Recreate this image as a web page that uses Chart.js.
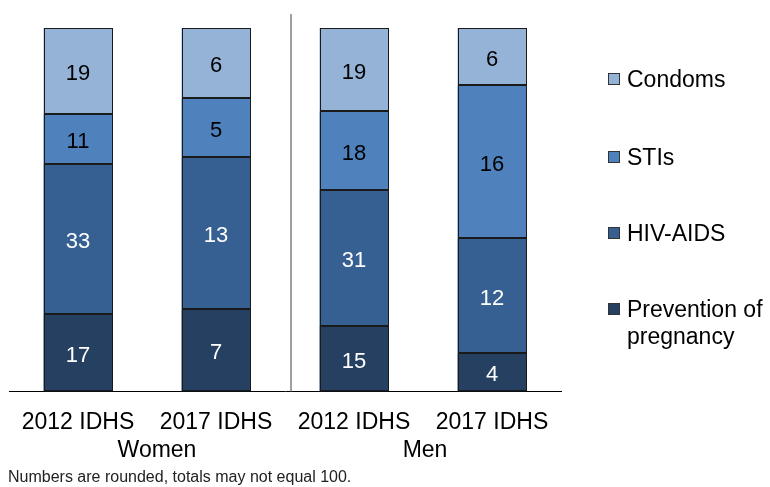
<!DOCTYPE html>
<html>
<head>
<meta charset="utf-8">
<script src="https://cdn.jsdelivr.net/npm/chart.js@4/dist/chart.umd.min.js"></script>
<style>
  html, body { margin: 0; padding: 0; background: #fff; }
  #wrap { width: 770px; height: 487px; position: relative; }
</style>
</head>
<body>
<div id="wrap"><canvas id="chart"></canvas></div>
<script>
// categories and groups
const categories = ["2012 IDHS", "2017 IDHS", "2012 IDHS", "2017 IDHS"];
const groups = ["Women", "Men"];

// raw values shown on the bars (bars are stacked to 100%)
const pregnancy = [17, 7, 15, 4];
const hivAids = [33, 13, 31, 12];
const stis = [11, 5, 18, 16];
const condoms = [19, 6, 19, 6];

const seriesNames = ["Prevention of pregnancy", "HIV-AIDS", "STIs", "Condoms"];
const seriesColors = ["#254061", "#376092", "#4f81bd", "#95b3d7"];
const labelColors = ["#ffffff", "#ffffff", "#000000", "#000000"];
const footnote = "Numbers are rounded, totals may not equal 100.";

const rawSeries = [pregnancy, hivAids, stis, condoms];
const totals = categories.map((c, i) => rawSeries.reduce((s, arr) => s + arr[i], 0));

const FONT = "'Liberation Sans', Arial, sans-serif";

const datasets = rawSeries.map((arr, k) => ({
    label: seriesNames[k],
    data: arr.map((v, i) => v / totals[i] * 100),
    raw: arr,
    backgroundColor: seriesColors[k],
    borderWidth: 0,
    barPercentage: 0.5,
    categoryPercentage: 1.0
}));

const extras = {
    id: "extras",
    afterDatasetsDraw(chart) {
        const ctx = chart.ctx;
        const x = chart.scales.x;
        const area = chart.chartArea;
        ctx.save();

        // crisp outlines around each segment
        ctx.strokeStyle = "#1a1a1a";
        ctx.lineWidth = 1;
        chart.data.datasets.forEach((ds, k) => {
            chart.getDatasetMeta(k).data.forEach((bar) => {
                const l = Math.round(bar.x - bar.width / 2) + 0.5;
                const r = Math.round(bar.x + bar.width / 2) - 0.5;
                const t = Math.round(bar.y) + 0.5;
                const b = Math.round(bar.base) - 0.5;
                ctx.strokeRect(l, t, r - l, b - t);
            });
        });

        // value labels
        ctx.font = "22px " + FONT;
        ctx.textAlign = "center";
        ctx.textBaseline = "middle";
        chart.data.datasets.forEach((ds, k) => {
            const meta = chart.getDatasetMeta(k);
            meta.data.forEach((bar, i) => {
                ctx.fillStyle = labelColors[k];
                ctx.fillText(String(ds.raw[i]), bar.x, (bar.y + bar.base) / 2 + 3);
            });
        });

        // divider between Women and Men
        const midX = (x.getPixelForValue(1) + x.getPixelForValue(2)) / 2 + 6;
        ctx.strokeStyle = "#808080";
        ctx.lineWidth = 1.5;
        ctx.beginPath();
        ctx.moveTo(midX, 14);
        ctx.lineTo(midX, area.bottom);
        ctx.stroke();

        // group labels
        ctx.fillStyle = "#000";
        ctx.font = "23px " + FONT;
        ctx.textBaseline = "alphabetic";
        const g0 = (x.getPixelForValue(0) + x.getPixelForValue(1)) / 2 + 10;
        const g1 = (x.getPixelForValue(2) + x.getPixelForValue(3)) / 2 + 2;
        ctx.fillText(groups[0], g0, 457);
        ctx.fillText(groups[1], g1, 457);

        // footnote
        ctx.font = "16px " + FONT;
        ctx.textAlign = "left";
        ctx.fillStyle = "#222";
        ctx.fillText(footnote, 8, 482);

        // legend (top to bottom: Condoms .. Prevention)
        const legendY = [79, 157, 233, 309];
        ctx.font = "23px " + FONT;
        ctx.textBaseline = "alphabetic";
        for (let k = 3; k >= 0; k--) {
            const y = legendY[3 - k];
            ctx.fillStyle = seriesColors[k];
            ctx.fillRect(608.5, y - 5.5, 11, 11);
            ctx.strokeStyle = "#333";
            ctx.lineWidth = 1;
            ctx.strokeRect(608.5, y - 5.5, 11, 11);
            ctx.fillStyle = "#000";
            const name = seriesNames[k];
            if (name === "Prevention of pregnancy") {
                ctx.fillText("Prevention of", 627, y + 8);
                ctx.fillText("pregnancy", 627, y + 35);
            } else {
                ctx.fillText(name, 627, y + 8);
            }
        }
        ctx.restore();
    }
};

new Chart(document.getElementById("chart"), {
    type: "bar",
    data: { labels: categories, datasets },
    options: {
        responsive: true,
        maintainAspectRatio: false,
        animation: false,
        layout: { padding: { left: 9, right: 209, top: 28, bottom: 34 } },
        plugins: {
            legend: { display: false },
            tooltip: { enabled: false }
        },
        scales: {
            x: {
                stacked: true,
                grid: { display: false, drawTicks: false },
                border: { display: true, color: "#000", width: 1 },
                ticks: { color: "#000", font: { family: FONT, size: 23 }, padding: 17, maxRotation: 0 }
            },
            y: {
                stacked: true,
                display: false,
                min: 0,
                max: 100
            }
        }
    },
    plugins: [extras]
});
</script>
</body>
</html>
